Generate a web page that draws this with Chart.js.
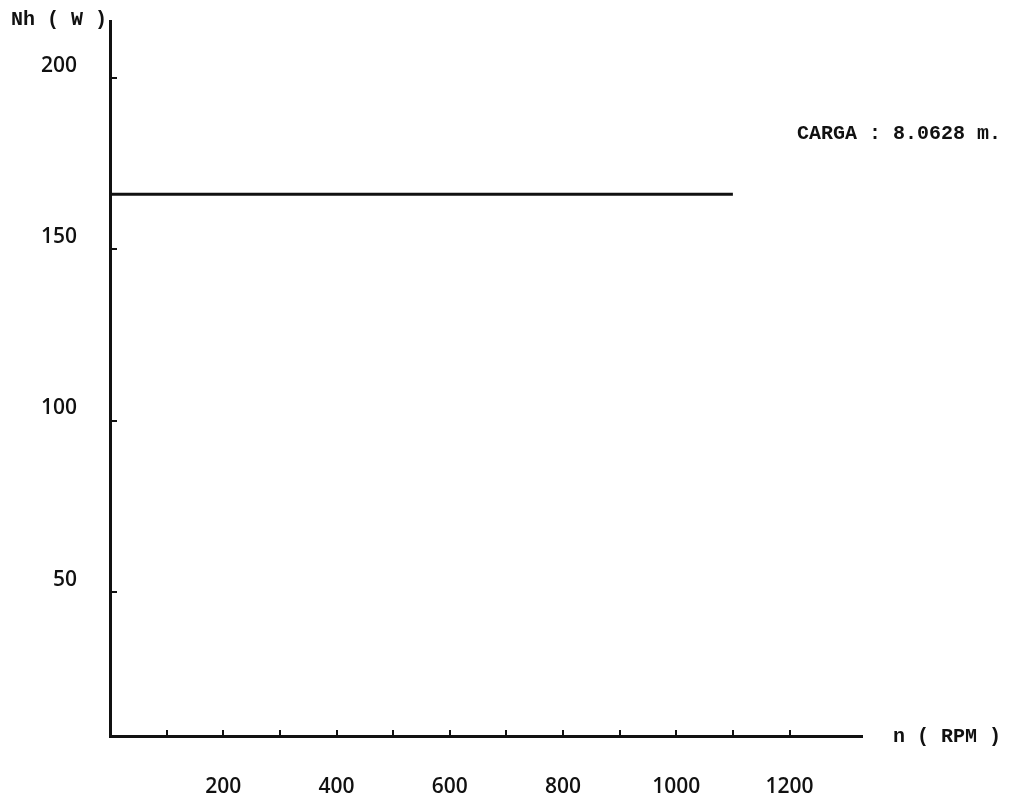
<!DOCTYPE html>
<html>
<head>
<meta charset="utf-8">
<title>Nh vs n</title>
<script src="https://cdn.jsdelivr.net/npm/chart.js@4/dist/chart.umd.min.js"></script>
<style>
  html, body { margin: 0; padding: 0; background: #ffffff; }
  #wrap { position: relative; width: 1009px; height: 797px; }
</style>
</head>
<body>
<div id="wrap"><canvas id="c" width="1009" height="797"></canvas></div>
<script>
// Hydraulic power at constant head
const rpm = [0, 1100];
const nh = [166, 166];

// Axis ticks
const xTickMarks = [100, 200, 300, 400, 500, 600, 700, 800, 900, 1000, 1100, 1200];
const xTickLabels = [200, 400, 600, 800, 1000, 1200];
const yTickMarks = [50, 100, 150, 200];

const yTitle = 'Nh ( W )';
const xTitle = 'n ( RPM )';
const headNote = 'CARGA : 8.0628 m.';

const ink = '#111111';
const labelFont = { family: 'Open Sans', size: 21, weight: '600' };
const typeFont = 'bold 20px "Liberation Mono"';

// Short inward tick marks and the typed captions
const annotate = {
  id: 'annotate',
  afterDraw(chart) {
    const { ctx, scales: { x, y } } = chart;
    ctx.save();
    ctx.strokeStyle = ink;
    ctx.lineWidth = 2;
    ctx.beginPath();
    xTickMarks.forEach(v => {
      const px = Math.round(x.getPixelForValue(v));
      ctx.moveTo(px, y.bottom);
      ctx.lineTo(px, y.bottom - 6);
    });
    yTickMarks.forEach(v => {
      const py = Math.round(y.getPixelForValue(v));
      ctx.moveTo(x.left, py);
      ctx.lineTo(x.left + 7, py);
    });
    ctx.stroke();

    ctx.fillStyle = ink;
    ctx.font = typeFont;
    ctx.textBaseline = 'middle';
    ctx.textAlign = 'left';
    ctx.fillText(yTitle, 11, 20);
    ctx.fillText(xTitle, 893, 737);
    ctx.fillText(headNote, 797, 134);
    ctx.restore();
  }
};

new Chart(document.getElementById('c'), {
  type: 'line',
  data: {
    datasets: [{
      data: rpm.map((v, i) => ({ x: v, y: nh[i] })),
      borderColor: ink,
      borderWidth: 3,
      pointRadius: 0,
      fill: false,
      tension: 0
    }]
  },
  options: {
    responsive: false,
    animation: false,
    events: [],
    layout: { padding: { left: 0, right: 147, top: 21, bottom: 0 } },
    plugins: { legend: { display: false }, tooltip: { enabled: false } },
    scales: {
      x: {
        type: 'linear',
        position: 'bottom',
        min: 0,
        max: 1328,
        border: { display: true, color: ink, width: 3 },
        grid: { display: false, drawTicks: false },
        ticks: {
          color: ink,
          font: labelFont,
          padding: 38,
          maxRotation: 0,
          autoSkip: false,
          callback: v => String(v)
        },
        afterBuildTicks(scale) {
          scale.ticks = xTickLabels.map(v => ({ value: v }));
        },
        afterFit(scale) {
          scale.height = 61;
          scale.paddingLeft = 0;
          scale.paddingRight = 0;
        }
      },
      y: {
        type: 'linear',
        min: 8,
        max: 216.5,
        border: { display: true, color: ink, width: 3 },
        grid: { display: false, drawTicks: false },
        ticks: {
          color: ink,
          font: labelFont,
          padding: 33,
          labelOffset: -12,
          autoSkip: false,
          callback: v => String(v)
        },
        afterBuildTicks(scale) {
          scale.ticks = yTickMarks.map(v => ({ value: v }));
        },
        afterFit(scale) {
          scale.width = 110;
          scale.paddingTop = 0;
          scale.paddingBottom = 0;
        }
      }
    }
  },
  plugins: [annotate]
});
</script>
</body>
</html>
